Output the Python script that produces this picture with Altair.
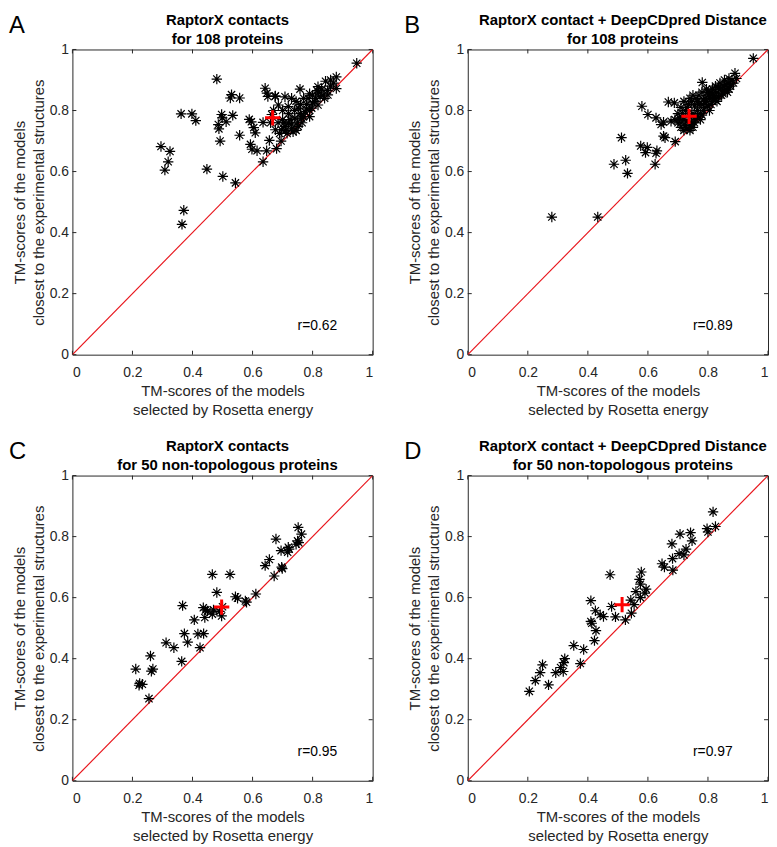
import altair as alt
import pandas as pd

# ---------------- data ----------------
A_x = [0.481,0.530,0.526,0.557,0.362,0.398,0.411,0.497,0.499,0.534,0.486,0.488,0.512,0.492,0.557,0.589,0.596,0.635,0.604,0.609,
       0.593,0.598,0.615,0.647,0.635,0.295,0.325,0.319,0.308,0.448,0.501,0.543,0.371,0.365,0.947,0.642,0.648,0.651,0.675,0.664,
       0.656,0.680,0.695,0.879,0.843,0.879,0.818,0.758,0.676,0.708,0.730,0.785,0.807,0.840,0.851,0.686,0.719,0.752,0.775,0.797,
       0.818,0.741,0.763,0.719,0.708,0.730,0.752,0.697,0.676,0.685,0.700,0.720,0.740,0.760,0.780,0.800,0.820,0.830,0.860,0.850,
       0.790,0.770,0.750,0.730,0.710,0.690,0.745,0.765,0.705,0.725,0.760,0.780,0.800,0.810,0.835,0.870,0.860,0.815,0.790,0.770,
       0.745,0.700,0.670,0.660,0.715,0.735,0.790,0.825]
A_y = [0.903,0.852,0.841,0.841,0.789,0.789,0.767,0.787,0.776,0.784,0.754,0.740,0.763,0.700,0.719,0.771,0.763,0.761,0.744,0.727,
       0.689,0.673,0.668,0.668,0.632,0.682,0.666,0.632,0.605,0.608,0.584,0.563,0.473,0.427,0.955,0.873,0.857,0.846,0.846,0.787,
       0.702,0.675,0.700,0.910,0.896,0.872,0.878,0.870,0.848,0.845,0.840,0.840,0.829,0.840,0.851,0.818,0.813,0.808,0.796,0.808,
       0.818,0.775,0.775,0.759,0.748,0.742,0.748,0.737,0.737,0.760,0.770,0.790,0.800,0.820,0.820,0.850,0.860,0.870,0.880,0.865,
       0.800,0.780,0.760,0.755,0.735,0.725,0.735,0.760,0.760,0.770,0.790,0.805,0.825,0.840,0.850,0.890,0.900,0.865,0.855,0.840,
       0.830,0.800,0.800,0.760,0.725,0.730,0.780,0.845]

B_x = [0.951,0.280,0.433,0.512,0.487,0.526,0.532,0.624,0.576,0.598,0.592,0.630,0.627,0.652,0.657,0.691,0.580,0.600,0.627,0.644,
       0.652,0.668,0.688,0.677,0.781,0.890,0.700,0.710,0.720,0.730,0.740,0.750,0.705,0.715,0.725,0.735,0.745,0.755,0.765,0.775,
       0.760,0.745,0.730,0.720,0.780,0.790,0.800,0.810,0.820,0.830,0.840,0.850,0.860,0.870,0.880,0.875,0.865,0.850,0.835,0.815,
       0.800,0.785,0.795,0.805,0.815,0.825,0.840,0.855,0.870,0.780,0.795,0.770,0.760,0.750,0.740,0.720,0.730,0.710,0.700,0.690,
       0.770,0.790,0.810,0.825,0.845,0.860,0.885,0.895,0.870,0.835,0.815,0.805,0.775,0.755,0.740,0.725,0.760,0.750,0.735,0.765,
       0.785,0.800,0.820,0.830,0.855,0.710,0.745,0.780]
B_y = [0.971,0.451,0.451,0.711,0.624,0.637,0.594,0.624,0.684,0.679,0.662,0.668,0.660,0.716,0.711,0.698,0.814,0.787,0.776,0.754,
       0.762,0.828,0.825,0.765,0.892,0.922,0.760,0.745,0.735,0.740,0.735,0.745,0.775,0.790,0.800,0.820,0.830,0.815,0.800,0.790,
       0.770,0.760,0.765,0.770,0.820,0.840,0.850,0.860,0.850,0.860,0.870,0.880,0.870,0.890,0.900,0.880,0.860,0.855,0.845,0.830,
       0.815,0.800,0.830,0.845,0.870,0.880,0.890,0.900,0.905,0.860,0.870,0.850,0.840,0.850,0.840,0.830,0.810,0.810,0.790,0.770,
       0.820,0.810,0.820,0.835,0.850,0.885,0.890,0.905,0.870,0.875,0.855,0.800,0.770,0.760,0.750,0.750,0.780,0.790,0.790,0.830,
       0.835,0.860,0.840,0.830,0.865,0.760,0.780,0.785]

C_x = [0.752,0.763,0.678,0.750,0.754,0.719,0.722,0.695,0.717,0.656,0.642,0.697,0.699,0.672,0.466,0.525,0.611,0.481,0.543,0.550,
       0.576,0.580,0.367,0.436,0.444,0.450,0.466,0.441,0.497,0.490,0.406,0.373,0.418,0.437,0.384,0.312,0.338,0.425,0.364,0.260,
       0.211,0.268,0.263,0.224,0.233,0.222,0.255,0.470,0.745,0.500]
C_y = [0.830,0.808,0.792,0.786,0.780,0.765,0.759,0.754,0.749,0.725,0.705,0.700,0.695,0.671,0.676,0.676,0.612,0.617,0.603,0.598,
       0.589,0.585,0.574,0.567,0.560,0.556,0.546,0.535,0.540,0.555,0.527,0.482,0.481,0.482,0.454,0.452,0.436,0.436,0.391,0.409,
       0.366,0.366,0.359,0.319,0.316,0.313,0.269,0.560,0.775,0.570]

D_x = [0.817,0.797,0.825,0.800,0.742,0.707,0.747,0.680,0.727,0.704,0.682,0.647,0.655,0.683,0.474,0.578,0.572,0.575,0.594,0.560,
       0.575,0.543,0.554,0.410,0.479,0.425,0.441,0.452,0.492,0.525,0.545,0.410,0.413,0.427,0.422,0.353,0.386,0.375,0.323,0.320,
       0.309,0.318,0.293,0.249,0.241,0.225,0.269,0.205,0.590,0.720]
D_y = [0.881,0.826,0.833,0.815,0.813,0.808,0.786,0.776,0.759,0.744,0.728,0.711,0.700,0.690,0.675,0.684,0.660,0.644,0.628,0.620,
       0.600,0.592,0.577,0.590,0.571,0.557,0.544,0.538,0.537,0.527,0.549,0.522,0.516,0.492,0.459,0.443,0.430,0.384,0.400,0.387,
       0.371,0.358,0.354,0.380,0.354,0.328,0.314,0.293,0.615,0.740]

means_x = [0.667, 0.737, 0.497, 0.514]
means_y = [0.776, 0.781, 0.569, 0.577]
r_labels = ["r=0.62", "r=0.89", "r=0.95", "r=0.97"]
letters = ["A", "B", "C", "D"]
title_line1 = ["RaptorX contacts", "RaptorX contact + DeepCDpred Distance",
               "RaptorX contacts", "RaptorX contact + DeepCDpred Distance"]
title_line2 = ["for 108 proteins", "for 108 proteins",
               "for 50 non-topologous proteins", "for 50 non-topologous proteins"]
tick_values = [0, 0.2, 0.4, 0.6, 0.8, 1]
diag_values = [0, 1]
x_title = ["TM-scores of the models", "selected by Rosetta energy"]
y_title = ["TM-scores of the models", "closest to the experimental structures"]

# ---------------- styling ----------------
W, H = 303, 308
FONT = "Liberation Sans"
AXC = "#262626"
ASTERISK = "M0,-1L0,1M-1,0L1,0M-0.7,-0.7L0.7,0.7M-0.7,0.7L0.7,-0.7"
PLUS = "M0,-1L0,1M-1,0L1,0"

scale = alt.Scale(domain=[0, 1], nice=False, zero=False)
xaxis = alt.Axis(values=tick_values, format="~g", title=x_title, grid=False, ticks=False, tickSize=0,
                 domain=False, labelPadding=11, titlePadding=4)
yaxis = alt.Axis(values=tick_values, format="~g", title=y_title, grid=False, ticks=False, tickSize=0,
                 domain=False, labelPadding=4, titlePadding=3)


def X(f="x"):
    return alt.X(f"{f}:Q", scale=scale, axis=xaxis)


def Y(f="y"):
    return alt.Y(f"{f}:Q", scale=scale, axis=yaxis)


def panel(i, xs, ys):
    pts = pd.DataFrame({"x": xs, "y": ys})
    diag = pd.DataFrame({"x": diag_values, "y": diag_values, "panel": [letters[i]] * 2})
    mean = pd.DataFrame({"x": [means_x[i]], "y": [means_y[i]]})
    rdf = pd.DataFrame({"x": [0.75], "y": [0.095], "t": [r_labels[i]]})
    tdf = pd.DataFrame({"x": tick_values, "y": tick_values})
    ldf = pd.DataFrame({"t": [letters[i]], "l1": [title_line1[i]], "l2": [title_line2[i]]})

    line = alt.Chart(diag).mark_line(color="#e8141b", strokeWidth=1.15, clip=True).encode(
        x=X(), y=Y(), order="x:Q")
    stars = alt.Chart(pts).mark_point(shape=ASTERISK, size=110, filled=False, color="black",
                                      strokeWidth=1.2, opacity=1).encode(x=X(), y=Y())
    plus = alt.Chart(mean).mark_point(shape=PLUS, size=240, filled=False, color="#ff0000",
                                      strokeWidth=3, opacity=1).encode(x=X(), y=Y())
    rtxt = alt.Chart(rdf).mark_text(align="left", baseline="middle", fontSize=14, font=FONT,
                                    color="black").encode(x=X(), y=Y(), text="t:N")
    tb = alt.Chart(tdf).mark_rule(color=AXC).encode(x=X(), y=alt.value(H), y2=alt.value(H - 4))
    tt = alt.Chart(tdf).mark_rule(color=AXC).encode(x=X(), y=alt.value(0), y2=alt.value(4))
    tl = alt.Chart(tdf).mark_rule(color=AXC).encode(y=Y(), x=alt.value(0), x2=alt.value(4))
    tr = alt.Chart(tdf).mark_rule(color=AXC).encode(y=Y(), x=alt.value(W), x2=alt.value(W - 4))
    let = alt.Chart(ldf).mark_text(align="left", baseline="alphabetic", fontSize=24, font=FONT,
                                   color="black").encode(x=alt.value(-64), y=alt.value(-17), text="t:N")
    t1 = alt.Chart(ldf).mark_text(align="center", baseline="alphabetic", fontSize=15, fontWeight="bold",
                                  font=FONT, color="black").encode(
        x=alt.value(W / 2 + 5), y=alt.value(-25), text="l1:N")
    t2 = alt.Chart(ldf).mark_text(align="center", baseline="alphabetic", fontSize=15, fontWeight="bold",
                                  font=FONT, color="black").encode(
        x=alt.value(W / 2 + 5), y=alt.value(-5.5), text="l2:N")

    return alt.layer(tb, tt, tl, tr, line, stars, plus, rtxt, let, t1, t2).properties(
        width=W, height=H)


charts = [panel(0, A_x, A_y), panel(1, B_x, B_y), panel(2, C_x, C_y), panel(3, D_x, D_y)]

chart = alt.concat(*charts, columns=2, spacing={"row": 122, "column": 96}, bounds="flush").properties(
    padding=0
).configure_view(stroke=AXC, strokeWidth=1).configure_axis(
    labelFont=FONT, labelFontSize=14, labelColor=AXC, titleFont=FONT, titleFontSize=15,
    titleFontWeight="normal", titleColor=AXC, titleLineHeight=19
)

chart.save("out.html", embed_options={"renderer": "svg", "actions": False})
